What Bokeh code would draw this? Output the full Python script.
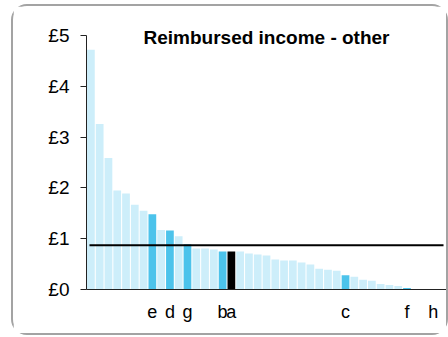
from bokeh.plotting import figure
from bokeh.layouts import column
from bokeh.models import ColumnDataSource, FixedTicker, PrintfTickFormatter, Label
from bokeh.embed import file_html
from bokeh.resources import INLINE

# Data (sorted values, £)
values = [4.72, 3.26, 2.59, 1.95, 1.89, 1.67, 1.55, 1.48, 1.17, 1.16,
          1.05, 0.89, 0.81, 0.81, 0.79, 0.75, 0.75, 0.75, 0.71, 0.69,
          0.67, 0.59, 0.57, 0.57, 0.53, 0.49, 0.41, 0.39, 0.37, 0.28,
          0.25, 0.19, 0.17, 0.11, 0.09, 0.07, 0.03, 0.0, 0.0, 0.0, 0.0]
names = ["", "", "", "", "", "", "", "e", "", "d",
         "", "g", "", "", "", "b", "a", "", "", "",
         "", "", "", "", "", "", "", "", "", "c",
         "", "", "", "", "", "", "f", "", "", "h", ""]
average = 0.87
y_ticks = [0, 1, 2, 3, 4, 5]
title_text = "Reimbursed income - other"

LIGHT = "#cdeefa"
HIGHLIGHT = "#4cc3eb"
SELF = "#000000"

xs = list(range(len(values)))
colors = [SELF if n == "a" else (HIGHLIGHT if n else LIGHT) for n in names]
src = ColumnDataSource(dict(x=xs, top=values, color=colors))

fig = figure(width=433, height=327, output_backend="svg", toolbar_location=None,
             x_range=(-0.5, len(values) - 0.5), y_range=(0, 5.2),
             min_border_left=73, min_border_right=0, min_border_top=19,
             min_border_bottom=44, background_fill_color="white",
             border_fill_color="white")
fig.outline_line_color = None
fig.grid.visible = False

fig.vbar(x="x", top="top", width=0.88, fill_color="color", line_color=None, source=src)

# average line across the bars
fig.segment(x0=[xs[0] - 0.16], x1=[xs[-1] + 0.16], y0=[average], y1=[average],
            line_color="black", line_width=2)

# y axis
ya = fig.yaxis[0]
ya.ticker = FixedTicker(ticks=y_ticks)
ya.bounds = (y_ticks[0], y_ticks[-1])
ya.formatter = PrintfTickFormatter(format="£%d")
ya.axis_line_color = "#222222"
ya.major_tick_line_color = "#222222"
ya.major_tick_out = 6
ya.major_tick_in = 0
ya.minor_tick_line_color = None
ya.major_label_standoff = 11
ya.major_label_text_font = "Liberation Sans"
ya.major_label_text_font_size = "19px"
ya.major_label_text_color = "black"

# x axis
xa = fig.xaxis[0]
ticks = [i for i, n in enumerate(names) if n]
xa.ticker = FixedTicker(ticks=ticks)
xa.major_label_overrides = {i: names[i] for i in ticks}
xa.axis_line_color = "#222222"
xa.major_tick_line_color = None
xa.major_tick_out = 0
xa.major_tick_in = 0
xa.minor_tick_line_color = None
xa.major_label_standoff = 12
xa.major_label_text_font = "Liberation Sans"
xa.major_label_text_font_size = "18px"
xa.major_label_text_color = "black"

title = Label(x=(len(values) - 1) / 2, y=4.96, text=title_text,
              text_align="center", text_baseline="alphabetic",
              text_font="Liberation Sans", text_font_style="bold",
              text_font_size="19px", text_color="black")
fig.add_layout(title)

p = column(fig)
p.styles = {"border": "2px solid #a3a3a3", "border-radius": "16px",
            "margin-left": "11px", "margin-top": "4px"}

open("out.html", "w").write(file_html(p, INLINE))
